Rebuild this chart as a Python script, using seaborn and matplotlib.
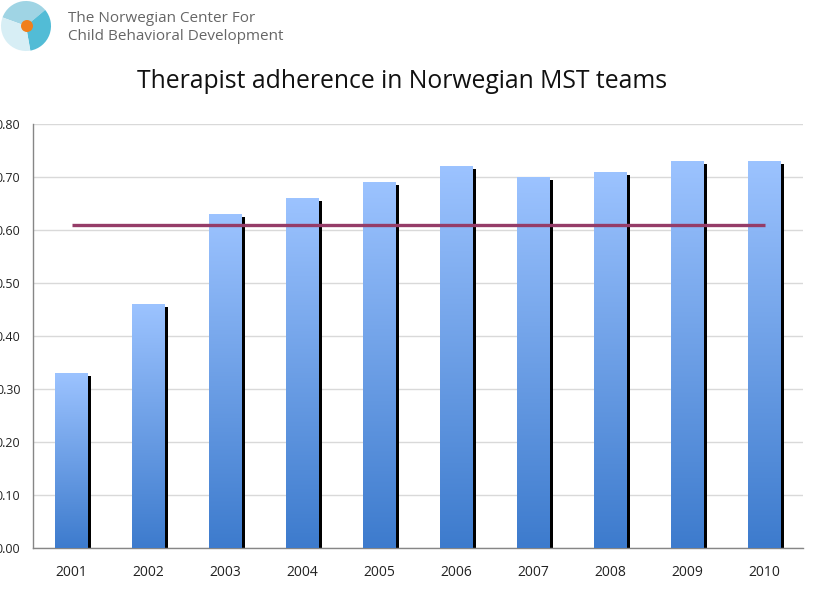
import numpy as np
import matplotlib
matplotlib.use("Agg")
import matplotlib.pyplot as plt
import matplotlib.transforms as mtransforms
from matplotlib.patches import Rectangle, Wedge, Circle
import seaborn as sns

# data
years = ["2001", "2002", "2003", "2004", "2005", "2006", "2007", "2008", "2009", "2010"]
adherence = [0.33, 0.46, 0.63, 0.66, 0.69, 0.72, 0.70, 0.71, 0.73, 0.73]
target = 0.61
y_ticks = [0.0, 0.1, 0.2, 0.3, 0.4, 0.5, 0.6, 0.7, 0.8]

sns.set_style("white")
plt.rcParams['font.family'] = ['Open Sans', 'DejaVu Sans']

fig = plt.figure(figsize=(8.14, 6.06), dpi=100)
ax = fig.add_axes([33 / 814, 1 - 548 / 606, 770 / 814, 424 / 606])

sns.barplot(x=years, y=adherence, color="#6f9fe6", width=0.42, ax=ax, zorder=3)

# gradient fill + black shadow on each bar
grad = np.linspace(0, 1, 256).reshape(-1, 1)
cmap = matplotlib.colors.LinearSegmentedColormap.from_list("bars", ["#3d7bcd", "#9cc3ff"])
shadow_off = mtransforms.ScaledTranslation(3 / 100, -3 / 100, fig.dpi_scale_trans)
for p in list(ax.patches):
    x0, y0 = p.get_x(), p.get_y()
    w, h = p.get_width(), p.get_height()
    sh = Rectangle((x0, y0), w, h, facecolor="black", edgecolor="none",
                   transform=ax.transData + shadow_off, zorder=2, clip_on=True)
    ax.add_patch(sh)
    im = ax.imshow(grad, extent=(x0, x0 + w, y0, y0 + h), origin="lower",
                   cmap=cmap, aspect="auto", zorder=3)
    im.set_clip_path(p)
    p.set_facecolor("none")
    p.set_edgecolor("none")

# target line
ax.plot([years[0], years[-1]], [target, target], color="#953c68", lw=2.4,
        solid_capstyle="butt", zorder=4)

ax.set_xlim(-0.5, 9.5)
ax.set_ylim(0, 0.8)
ax.set_yticks(y_ticks)
ax.set_yticklabels([f"{v:.2f}" for v in y_ticks])
ax.yaxis.grid(True, color="#d9d9d9", lw=1)
ax.set_axisbelow(True)
for s in ["top", "right"]:
    ax.spines[s].set_visible(False)
for s in ["left", "bottom"]:
    ax.spines[s].set_color("#868686")
    ax.spines[s].set_linewidth(1)
ax.tick_params(axis="y", length=3, color="#d9d9d9", pad=6, labelsize=9, labelcolor="#222222")
ax.tick_params(axis="x", length=0, pad=12, labelsize=10, labelcolor="#222222")

fig.text(402 / 814, 1 - 82 / 606, "Therapist adherence in Norwegian MST teams",
         ha="center", va="center", fontsize=17.8, color="#111111")

# logo
lax = fig.add_axes([0, 1 - 52 / 606, 52 / 814, 52 / 606])
lax.set_xlim(0, 52)
lax.set_ylim(52, 0)
lax.set_aspect("equal")
lax.axis("off")
lax.add_patch(Wedge((26, 26), 25, 200, 320, facecolor="#9fd4e4", edgecolor="none"))
lax.add_patch(Wedge((26, 26), 25, 320, 80, facecolor="#52bcd6", edgecolor="none"))
lax.add_patch(Wedge((26, 26), 25, 80, 200, facecolor="#d7eef5", edgecolor="none"))
lax.add_patch(Circle((27, 26), 6, facecolor="#f07f1b", edgecolor="none"))

fig.text(68 / 814, 1 - 18 / 606, "The Norwegian Center For", ha="left", va="center",
         fontsize=11, color="#666666")
fig.text(68 / 814, 1 - 37 / 606, "Child Behavioral Development", ha="left", va="center",
         fontsize=11, color="#666666")

fig.savefig("out.png", dpi=100)
